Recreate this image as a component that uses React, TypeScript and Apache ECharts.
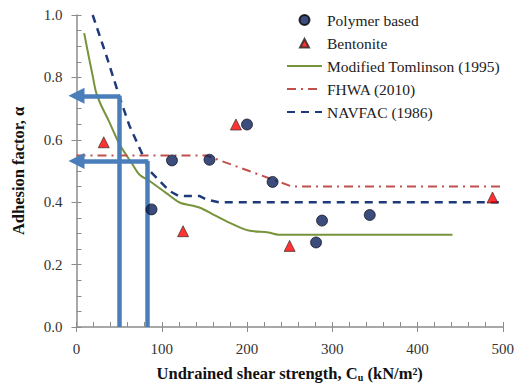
import React, { useEffect, useRef } from "react";
import * as echarts from "echarts";

const polymerX = [88, 112, 156, 200, 230, 281, 288, 344];
const polymerY = [0.377, 0.534, 0.536, 0.649, 0.465, 0.271, 0.341, 0.359];

const bentoniteX = [32, 125, 187, 250, 488];
const bentoniteY = [0.592, 0.307, 0.649, 0.26, 0.415];

const tomlinsonX = [9, 15, 19, 23, 29, 38, 51, 66, 74, 86, 105, 121, 144, 163, 183, 202, 225, 237, 441];
const tomlinsonY = [0.942, 0.858, 0.805, 0.752, 0.71, 0.66, 0.583, 0.52, 0.488, 0.467, 0.43, 0.399, 0.383, 0.357, 0.33, 0.309, 0.303, 0.296, 0.296];

const fhwaX = [0, 152, 253, 500];
const fhwaY = [0.55, 0.55, 0.45, 0.45];

const navfacX = [19, 35, 50, 62, 86, 109, 120, 144, 152, 167, 500];
const navfacY = [1.0, 0.87, 0.741, 0.646, 0.5, 0.436, 0.42, 0.42, 0.409, 0.4, 0.4];

// annotation arrows: reading Cu -> alpha
const arrowCu = [50, 83];
const arrowAlpha = [0.741, 0.532];
const arrowEndX = 0;

const xTicks = [0, 100, 200, 300, 400, 500];
const yTicks = [0, 0.2, 0.4, 0.6, 0.8, 1.0];

const zip = (xs: number[], ys: number[]) => xs.map((x, i) => [x, ys[i]]);

const FONT = "Liberation Serif, serif";

export default function App() {
  const ref = useRef<HTMLDivElement>(null);
  useEffect(() => {
    if (!ref.current) return;
    const chart = echarts.init(ref.current, undefined, { renderer: "svg" });
    const axisColor = "#8c8c8c";
    chart.setOption({
      animation: false,
      backgroundColor: "#ffffff",
      textStyle: { fontFamily: FONT },
      grid: { left: 76.5, right: 12, top: 15, bottom: 56, containLabel: false },
      legend: {
        orient: "vertical",
        left: 281,
        top: 7,
        itemWidth: 35,
        itemHeight: 12,
        itemGap: 7,
        textStyle: { fontFamily: FONT, fontSize: 15.5, color: "#222" },
        data: [
          { name: "Polymer based", icon: "path://M0,0M35,12M12.5,6A5,5,0,1,1,22.5,6A5,5,0,1,1,12.5,6Z" },
          { name: "Bentonite", icon: "path://M0,0M35,12M13,10.5L17.5,2L22,10.5Z" },
          { name: "Modified Tomlinson (1995)", itemStyle: { opacity: 0 } },
          { name: "FHWA (2010)", itemStyle: { opacity: 0 } },
          { name: "NAVFAC (1986)", itemStyle: { opacity: 0 } },
        ],
      },
      xAxis: [
        {
          type: "value",
          min: xTicks[0],
          max: xTicks[xTicks.length - 1],
          interval: 100,
          position: "bottom",
          axisLine: { show: true, lineStyle: { color: axisColor, width: 1.5 } },
          axisTick: { show: true, inside: false, length: 5, lineStyle: { color: axisColor } },
          axisLabel: { fontFamily: FONT, fontSize: 15, color: "#333", margin: 14 },
          splitLine: { show: false },
          name: "{a|Undrained shear strength, C}{sub|u}{a| (kN/m²)}",
          nameLocation: "middle",
          nameGap: 36,
          nameTextStyle: {
            rich: {
              a: { fontFamily: FONT, fontSize: 16.5, fontWeight: "bold", color: "#111", lineHeight: 20 },
              sub: { fontFamily: FONT, fontSize: 10, fontWeight: "bold", color: "#111", lineHeight: 20, padding: [8, 0, 0, 0] },
            },
          },
        },
        {
          type: "value",
          min: 0,
          max: 500,
          interval: 20,
          position: "bottom",
          axisLine: { show: false },
          axisTick: { show: true, inside: true, length: 5, lineStyle: { color: axisColor } },
          axisLabel: { show: false },
          splitLine: { show: false },
        },
      ],
      yAxis: [
        {
          type: "value",
          min: yTicks[0],
          max: yTicks[yTicks.length - 1],
          interval: 0.2,
          axisLine: { show: true, lineStyle: { color: axisColor, width: 1.5 } },
          axisTick: { show: true, inside: false, length: 5, lineStyle: { color: axisColor } },
          axisLabel: {
            fontFamily: FONT,
            fontSize: 15,
            color: "#333",
            margin: 14,
            formatter: (v: number) => v.toFixed(1),
          },
          splitLine: { show: false },
          name: "Adhesion factor, α",
          nameLocation: "middle",
          nameGap: 50,
          nameTextStyle: { fontFamily: FONT, fontSize: 16.5, fontWeight: "bold", color: "#111" },
        },
        {
          type: "value",
          min: 0,
          max: 1,
          interval: 0.05,
          position: "left",
          axisLine: { show: false },
          axisTick: { show: true, inside: true, length: 5, lineStyle: { color: axisColor } },
          axisLabel: { show: false },
          splitLine: { show: false },
        },
      ],
      series: [
        {
          name: "Modified Tomlinson (1995)",
          type: "line",
          data: zip(tomlinsonX, tomlinsonY),
          symbol: "none",
          smooth: 0.3,
          lineStyle: { color: "#77933c", width: 2 },
          itemStyle: { color: "#77933c" },
          z: 3,
        },
        {
          name: "FHWA (2010)",
          type: "line",
          data: zip(fhwaX, fhwaY),
          symbol: "none",
          lineStyle: { color: "#c0504d", width: 2, type: [9, 5, 2, 5] },
          itemStyle: { color: "#c0504d" },
          z: 3,
        },
        {
          name: "NAVFAC (1986)",
          type: "line",
          data: zip(navfacX, navfacY),
          symbol: "none",
          lineStyle: { color: "#1f3a7a", width: 2.5, type: [8, 6] },
          itemStyle: { color: "#1f3a7a" },
          z: 3,
        },
        {
          name: "Verticals",
          type: "lines",
          coordinateSystem: "cartesian2d",
          clip: false,
          symbol: ["none", "none"],
          lineStyle: { color: "#4a7ebb", width: 4.5, opacity: 1 },
          data: arrowCu.map((c, i) => ({ coords: [[c, 0], [c, arrowAlpha[i]]] })),
          z: 4,
        },
        {
          name: "Arrows",
          type: "lines",
          coordinateSystem: "cartesian2d",
          clip: false,
          symbol: ["none", "triangle"],
          symbolSize: [14, 16],
          lineStyle: { color: "#4a7ebb", width: 4.5, opacity: 1 },
          data: arrowCu.map((c, i) => ({ coords: [[c + 1.3, arrowAlpha[i]], [arrowEndX, arrowAlpha[i]]] })),
          z: 4,
        },
        {
          name: "Polymer based",
          type: "scatter",
          data: zip(polymerX, polymerY),
          symbol: "circle",
          symbolSize: 11,
          itemStyle: { color: "#0b1f5c", borderColor: "#000", borderWidth: 0.8 },
          z: 5,
        },
        {
          name: "Bentonite",
          type: "scatter",
          data: zip(bentoniteX, bentoniteY),
          symbol: "triangle",
          symbolSize: 11,
          itemStyle: { color: "#ff0000", borderColor: "#222", borderWidth: 0.8 },
          z: 5,
        },
      ],
    });
    return () => chart.dispose();
  }, []);
  return (
    <div
      ref={ref}
      style={{ position: "fixed", left: 0, top: 0, width: 517, height: 387 }}
    />
  );
}
